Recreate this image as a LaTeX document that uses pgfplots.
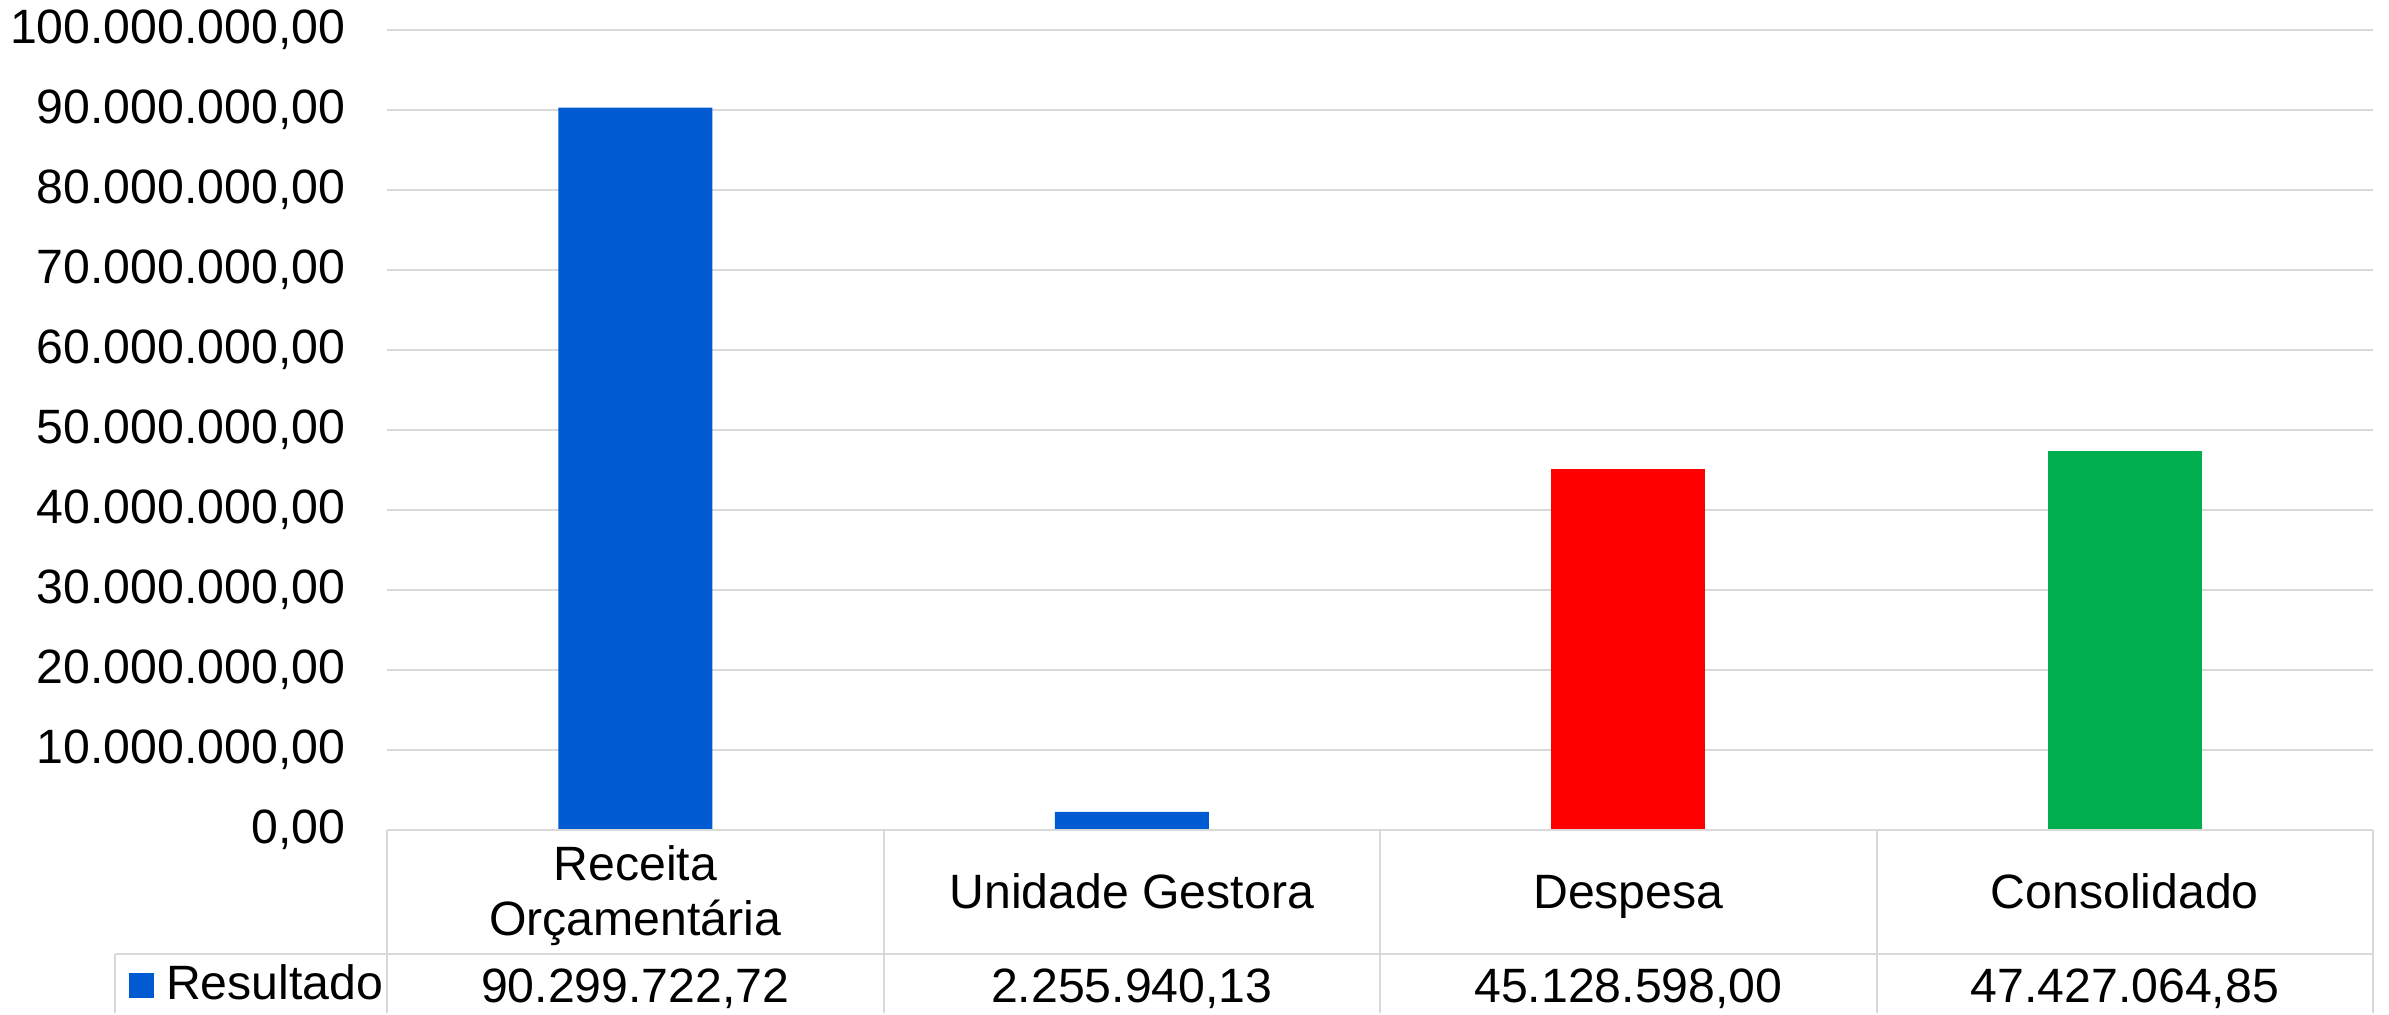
\documentclass[border=0pt]{standalone}
\usepackage{fontspec}
\setmainfont{Liberation Sans}
\usepackage{pgfplots}
\pgfplotsset{compat=1.18}

\definecolor{barblue}{HTML}{005BD3}
\definecolor{barred}{HTML}{FF0000}
\definecolor{bargreen}{HTML}{00B050}
\definecolor{gridgray}{HTML}{D9D9D9}

\begin{document}
\begin{tikzpicture}[font=\fontsize{12.05}{14.5}\selectfont]
\begin{axis}[
    scale only axis,
    width=496.5pt, height=200pt,
    xmin=-0.5, xmax=3.5,
    ymin=0, ymax=100000000,
    ytick={0,10000000,20000000,30000000,40000000,50000000,60000000,70000000,80000000,90000000,100000000},
    xtick=\empty,
    scaled y ticks=false,
    axis line style={draw=none},
    ymajorgrids,
    grid style={gridgray, line width=0.5pt},
    major tick length=0pt,
    yticklabel style={
        /pgf/number format/.cd, fixed, fixed zerofill, precision=2,
        1000 sep={.}, dec sep={,}, assume math mode=true,
        /tikz/.cd, anchor=east, inner sep=0pt, xshift=-10.25pt,
    },
    legend style={
        at={(-0.1299,-0.194)}, anchor=west,
        draw=none, fill=none, inner sep=0pt, outer sep=0pt,
        nodes={inner sep=0pt},
    },
    clip=false,
]
% Resultado
\addplot[ybar, bar width=0.31, bar shift=0pt, fill=barblue, draw=none,
    legend image code/.code={\fill[barblue] (0,-3.125pt) rectangle (6.25pt,3.125pt); \path (9.25pt,0);}]
    coordinates {(0,90299722.72) (1,2255940.13)};
\addplot[ybar, bar width=0.31, bar shift=0pt, fill=barred, draw=none, forget plot]
    coordinates {(2,45128598.00)};
\addplot[ybar, bar width=0.31, bar shift=0pt, fill=bargreen, draw=none, forget plot]
    coordinates {(3,47427064.85)};
\legend{Resultado}

% data table below the plot
\draw[gridgray, line width=0.5pt]
    (axis cs:-0.5,0) -- (axis cs:3.5,0)
    (axis cs:-1.0478,-15500000) -- (axis cs:3.5,-15500000)
    (axis cs:-1.0478,-15500000) -- (axis cs:-1.0478,-22875000)
    (axis cs:-0.5,0) -- (axis cs:-0.5,-22875000)
    (axis cs:0.5,0) -- (axis cs:0.5,-22875000)
    (axis cs:1.5,0) -- (axis cs:1.5,-22875000)
    (axis cs:2.5,0) -- (axis cs:2.5,-22875000)
    (axis cs:3.5,0) -- (axis cs:3.5,-22875000);

\node[anchor=base] at (axis cs:0,-6250000) {Receita};
\node[anchor=base] at (axis cs:0,-13125000) {Orçamentária};
\node[anchor=base] at (axis cs:1,-9750000) {Unidade Gestora};
\node[anchor=base] at (axis cs:2,-9750000) {Despesa};
\node[anchor=base] at (axis cs:3,-9750000) {Consolidado};

\node[anchor=base] at (axis cs:0,-21500000) {90.299.722,72};
\node[anchor=base] at (axis cs:1,-21500000) {2.255.940,13};
\node[anchor=base] at (axis cs:2,-21500000) {45.128.598,00};
\node[anchor=base] at (axis cs:3,-21500000) {47.427.064,85};

\coordinate (BL) at (axis cs:-1.2795,-23000000);
\coordinate (TR) at (axis cs:3.532,103750000);
\end{axis}
\pgfresetboundingbox
\path[use as bounding box] (BL) rectangle (TR);
\end{tikzpicture}
\end{document}
